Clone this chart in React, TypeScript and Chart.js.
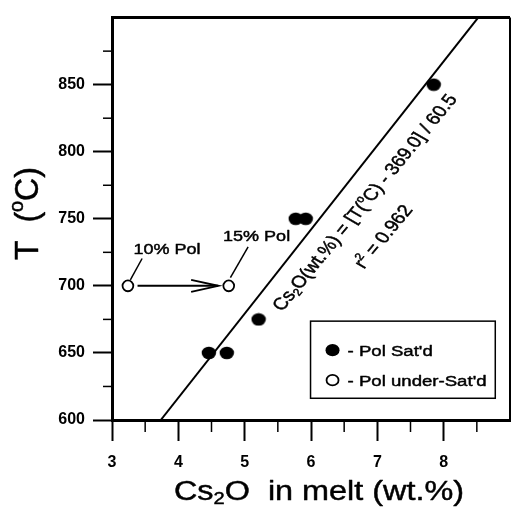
import React, { useEffect, useRef } from 'react';
import { Chart, registerables } from 'chart.js';

Chart.register(...registerables);

// ---- data ----
const satX = [4.46, 4.73, 5.21, 5.77, 5.92, 7.85];
const satY = [650, 650, 675, 750, 750, 850];
const underX = [3.24, 4.76];
const underY = [700, 700];
const fitX = [3.735, 8.52];
const fitY = [600, 900];

const xRange = [3, 9];
const yRange = [600, 900];
const xTicks = [3, 4, 5, 6, 7, 8];
const xMinorTicks = [3.5, 4.5, 5.5, 6.5, 7.5, 8.5];
const yTicks = [600, 650, 700, 750, 800, 850];
const yMinorTicks = [625, 675, 725, 775, 825, 875];

// annotation anchors (data coordinates)
const arrowX = [3.385, 4.6];
const arrowY = 700;
const label10Pos = [3.83, 727.7];
const label15Pos = [5.18, 737.8];
const leader10 = [3.454, 720.4, 3.277, 704.4];
const leader15 = [5.052, 729, 4.785, 706.1];
const eqPos = [6.8, 762.5];
const r2Pos = [7.08, 737];
const legendBox = [5.993, 673.7, 8.778, 616.2];

const FONT = "'Liberation Sans', Arial, sans-serif";
const SX = 1.2;

type Seg = { t: string; sub?: boolean; sup?: boolean };

function drawRich(
  ctx: CanvasRenderingContext2D,
  segs: Seg[],
  cx: number,
  cy: number,
  angleDeg: number,
  size: number,
  sx: number,
  align: 'center' | 'left' = 'center',
  weight = 'normal'
) {
  ctx.save();
  ctx.translate(cx, cy);
  ctx.scale(sx, 1);
  const phi = (angleDeg * Math.PI) / 180;
  const theta = Math.atan2(sx * Math.sin(phi), Math.cos(phi));
  ctx.rotate(theta);
  const fontOf = (s: number) => `${weight} ${s}px ${FONT}`;
  const widths = segs.map((sg) => {
    ctx.font = fontOf(sg.sub || sg.sup ? size * 0.62 : size);
    return ctx.measureText(sg.t).width;
  });
  const total = widths.reduce((a, b) => a + b, 0);
  let xx = align === 'center' ? -total / 2 : 0;
  const base = size * 0.36;
  ctx.fillStyle = '#000';
  ctx.strokeStyle = '#000';
  ctx.lineWidth = 0.45;
  ctx.lineJoin = 'round';
  ctx.textBaseline = 'alphabetic';
  ctx.textAlign = 'left';
  segs.forEach((sg, i) => {
    ctx.font = fontOf(sg.sub || sg.sup ? size * 0.62 : size);
    const dy = sg.sub ? size * 0.16 : sg.sup ? -size * 0.42 : 0;
    ctx.fillText(sg.t, xx, base + dy);
    ctx.strokeText(sg.t, xx, base + dy);
    xx += widths[i];
  });
  ctx.restore();
}

const annotPlugin = {
  id: 'annot',
  afterDraw(chart: any) {
    const { ctx, chartArea: a } = chart;
    const xs = chart.scales.x;
    const ys = chart.scales.y;
    const px = (v: number) => xs.getPixelForValue(v);
    const py = (v: number) => ys.getPixelForValue(v);

    ctx.save();
    ctx.strokeStyle = '#000';
    ctx.lineCap = 'butt';

    // top & right frame
    ctx.lineWidth = 3;
    ctx.beginPath();
    ctx.moveTo(a.left - 1, a.top);
    ctx.lineTo(a.right, a.top);
    ctx.stroke();
    ctx.lineWidth = 2;
    ctx.beginPath();
    ctx.moveTo(a.right, a.top);
    ctx.lineTo(a.right, a.bottom);
    ctx.stroke();

    // minor ticks
    ctx.lineWidth = 1.5;
    xMinorTicks.forEach((v) => {
      const x = px(v);
      ctx.beginPath();
      ctx.moveTo(x, a.bottom);
      ctx.lineTo(x, a.bottom + 12);
      ctx.stroke();
    });
    yMinorTicks.forEach((v) => {
      const y = py(v);
      ctx.beginPath();
      ctx.moveTo(a.left, y);
      ctx.lineTo(a.left - 9, y);
      ctx.stroke();
    });

    // arrow
    const ay = py(arrowY);
    const ax0 = px(arrowX[0]);
    const ax1 = px(arrowX[1]);
    ctx.lineWidth = 2;
    ctx.beginPath();
    ctx.moveTo(ax0, ay);
    ctx.lineTo(ax1, ay);
    ctx.stroke();
    ctx.beginPath();
    ctx.moveTo(ax1 - 27, ay - 6);
    ctx.lineTo(ax1, ay);
    ctx.lineTo(ax1 - 27, ay + 6);
    ctx.stroke();

    // leader lines
    ctx.lineWidth = 1.5;
    [leader10, leader15].forEach((l) => {
      ctx.beginPath();
      ctx.moveTo(px(l[0]), py(l[1]));
      ctx.lineTo(px(l[2]), py(l[3]));
      ctx.stroke();
    });

    drawRich(ctx, [{ t: '10% Pol' }], px(label10Pos[0]), py(label10Pos[1]), 0, 15, SX);
    drawRich(ctx, [{ t: '15% Pol' }], px(label15Pos[0]), py(label15Pos[1]), 0, 15, SX);

    // equation along fit line
    drawRich(
      ctx,
      [
        { t: 'Cs' },
        { t: '2', sub: true },
        { t: 'O(wt.%) = [T(' },
        { t: 'o', sup: true },
        { t: 'C) - 369.0] / 60.5' },
      ],
      px(eqPos[0]),
      py(eqPos[1]),
      -50.5,
      16.8,
      SX
    );
    drawRich(
      ctx,
      [{ t: 'r' }, { t: '2', sup: true }, { t: ' = 0.962' }],
      px(r2Pos[0]),
      py(r2Pos[1]),
      -50.5,
      16.8,
      SX
    );

    // legend box
    const lx0 = px(legendBox[0]);
    const ly0 = py(legendBox[1]);
    const lx1 = px(legendBox[2]);
    const ly1 = py(legendBox[3]);
    ctx.fillStyle = '#fff';
    ctx.fillRect(lx0, ly0, lx1 - lx0, ly1 - ly0);
    ctx.lineWidth = 1.5;
    ctx.strokeRect(lx0, ly0, lx1 - lx0, ly1 - ly0);
    const r1 = ly0 + 29;
    const r2 = ly0 + 59;
    ctx.fillStyle = '#000';
    ctx.beginPath();
    ctx.ellipse(lx0 + 22, r1, 7, 6.2, 0, 0, Math.PI * 2);
    ctx.fill();
    ctx.lineWidth = 1.8;
    ctx.beginPath();
    ctx.ellipse(lx0 + 22, r2, 6, 5.3, 0, 0, Math.PI * 2);
    ctx.stroke();
    drawRich(ctx, [{ t: "- Pol Sat'd" }], lx0 + 37, r1, 0, 15.5, SX, 'left');
    drawRich(ctx, [{ t: "- Pol under-Sat'd" }], lx0 + 37, r2, 0, 15.5, SX, 'left');

    // axis titles
    drawRich(
      ctx,
      [{ t: 'Cs' }, { t: '2', sub: true }, { t: 'O  in melt (wt.%)' }],
      (a.left + a.right) / 2 + 8,
      500 - 27 * 0.36,
      0,
      27,
      SX
    );
    drawRich(ctx, [{ t: 'T  (' }, { t: 'o', sup: true }, { t: 'C)' }], 37 - 32 * 0.36, 213.5, -90, 32, 1.05);

    ctx.restore();
  },
};

export default function App() {
  const ref = useRef<HTMLCanvasElement>(null);

  useEffect(() => {
    document.body.style.margin = '0';
    const canvas = ref.current!;
    // elliptical filled marker (scan is stretched horizontally)
    const dot = document.createElement('canvas');
    dot.width = 16;
    dot.height = 14;
    const dctx = dot.getContext('2d')!;
    dctx.fillStyle = '#000';
    dctx.beginPath();
    dctx.ellipse(8, 7, 7.2, 6.3, 0, 0, Math.PI * 2);
    dctx.fill();

    const tickFont = { family: FONT, size: 16, weight: 'bold' as const };

    const chart = new Chart(canvas, {
      type: 'scatter',
      data: {
        datasets: [
          {
            label: 'fit',
            data: fitX.map((x, i) => ({ x, y: fitY[i] })),
            showLine: true,
            borderColor: '#000',
            borderWidth: 2,
            pointRadius: 0,
            order: 3,
          },
          {
            label: "Pol Sat'd",
            data: satX.map((x, i) => ({ x, y: satY[i] })),
            pointStyle: dot as any,
            pointRadius: 7,
            backgroundColor: '#000',
            borderColor: '#000',
            order: 1,
          },
          {
            label: "Pol under-Sat'd",
            data: underX.map((x, i) => ({ x, y: underY[i] })),
            pointStyle: 'circle',
            pointRadius: 5.4,
            borderWidth: 1.8,
            backgroundColor: '#fff',
            borderColor: '#000',
            order: 0,
          },
        ],
      },
      options: {
        responsive: false,
        animation: false,
        layout: { padding: { top: 13, right: 1, left: 0, bottom: 0 } },
        plugins: { legend: { display: false }, tooltip: { enabled: false } },
        scales: {
          x: {
            type: 'linear',
            min: xRange[0],
            max: xRange[1],
            afterBuildTicks: (s: any) => {
              s.ticks = xTicks.map((v) => ({ value: v }));
            },
            afterFit: (s: any) => {
              s.height = 88;
            },
            ticks: {
              color: '#000',
              font: tickFont,
              padding: 12,
              maxRotation: 0,
              autoSkip: false,
              callback: (v: any) => String(v),
            },
            grid: {
              drawOnChartArea: false,
              tickLength: 21,
              tickWidth: 2,
              tickColor: '#000',
            },
            border: { color: '#000', width: 3 },
          },
          y: {
            type: 'linear',
            min: yRange[0],
            max: yRange[1],
            afterBuildTicks: (s: any) => {
              s.ticks = yTicks.map((v) => ({ value: v }));
            },
            afterFit: (s: any) => {
              s.width = 112;
            },
            ticks: {
              color: '#000',
              font: tickFont,
              padding: 8,
              autoSkip: false,
              callback: (v: any) => String(v),
            },
            grid: {
              drawOnChartArea: false,
              tickLength: 19,
              tickWidth: 2,
              tickColor: '#000',
            },
            border: { color: '#000', width: 3 },
          },
        },
      },
      plugins: [annotPlugin],
    });
    return () => chart.destroy();
  }, []);

  return (
    <div style={{ position: 'absolute', left: 0, top: 0, width: 518, height: 508, background: '#fff' }}>
      <canvas ref={ref} width={518} height={508} style={{ display: 'block' }} />
    </div>
  );
}
